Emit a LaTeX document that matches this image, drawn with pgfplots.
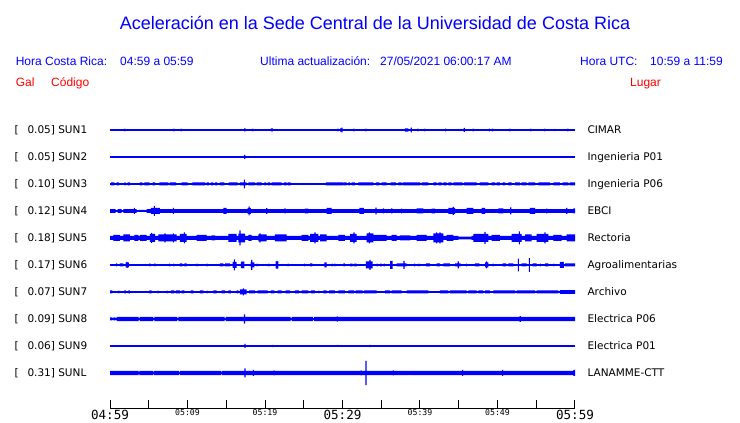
\documentclass[border=0pt]{standalone}
\usepackage{fontspec}
\setmainfont{Liberation Sans}
\newfontfamily\dejavu{DejaVu Sans}
\newfontfamily\dmono{DejaVu Sans Mono}
\usepackage{pgfplots}
\pgfplotsset{compat=1.18}
\usepackage{pgfplotstable}

\pgfplotstableread[row sep=\\]{x a\\ 0 0\\ 1.85 1.4\\ 1.98 0\\ 8.17 1.4\\ 8.30 0\\ 9.12 1.4\\ 9.25 0\\ 17.30 1.5\\ 17.50 0\\ 18.36 1.4\\ 18.49 0\\ 20.75 1.5\\ 21.0 0\\ 29.33 1.3\\ 29.46 0\\ 29.68 1.6\\ 29.85 2.4\\ 30.0 0\\ 31.39 1.4\\ 31.52 0\\ 32.94 1.4\\ 33.07 0\\ 38.06 1.6\\ 38.49 0\\ 38.80 2.4\\ 38.95 0\\ 39.65 1.4\\ 39.78 0\\ 40.55 1.4\\ 40.68 0\\ 43.23 1.4\\ 43.36 0\\ 45.25 1.1\\ 45.38 0\\ 45.62 2.0\\ 45.78 0\\ 46.80 1.4\\ 46.93 0\\ 48.90 1.4\\ 49.03 0\\ 49.30 1.4\\ 49.43 0\\ 51.52 1.4\\ 51.65 0\\ 54.23 1.4\\ 54.36 0\\ 56.04 1.4\\ 56.17 0\\ 57.33 1.1\\ 57.46 0\\ 59.01 1.4\\ 59.14 0\\ 60 0\\}\tA

\pgfplotstableread[row sep=\\]{x a\\ 0 0\\ 17.32 2.0\\ 17.47 0\\ 60 0\\}\tB

\pgfplotstableread[row sep=\\]{x a\\ 0 0\\ 0.13 1.5\\ 0.56 0\\ 0.86 1.5\\ 1.16 0\\ 1.85 1.5\\ 2.02 0\\ 2.28 1.5\\ 2.58 0\\ 3.87 1.5\\ 4.17 0\\ 4.43 1.5\\ 5.07 0\\ 5.51 1.5\\ 5.81 0\\ 6.37 1.5\\ 7.53 0\\ 7.74 1.5\\ 8.52 0\\ 9.25 1.5\\ 10.02 0\\ 10.62 1.5\\ 12.26 0\\ 12.47 1.5\\ 12.77 0\\ 13.03 1.5\\ 13.33 0\\ 13.55 1.5\\ 13.85 0\\ 14.19 1.5\\ 14.75 0\\ 15.35 1.5\\ 16.47 0\\ 16.77 1.5\\ 17.26 4.3\\ 17.40 1.5\\ 17.63 0\\ 17.85 1.5\\ 18.71 0\\ 18.92 1.5\\ 19.57 0\\ 19.91 1.5\\ 20.13 0\\ 20.34 1.5\\ 20.65 0\\ 20.86 1.5\\ 22.15 0\\ 22.45 1.5\\ 22.80 0\\ 22.92 1.5\\ 23.31 0\\ 27.87 1.5\\ 30.10 0\\ 30.19 1.5\\ 30.54 0\\ 30.75 1.5\\ 30.97 0\\ 31.18 1.5\\ 31.61 0\\ 32.04 1.5\\ 33.98 0\\ 34.32 1.5\\ 34.75 0\\ 35.05 1.5\\ 35.70 0\\ 36.21 1.5\\ 36.90 0\\ 37.20 1.5\\ 37.63 0\\ 37.76 1.5\\ 40.0 0\\ 40.21 1.5\\ 41.08 0\\ 41.72 1.5\\ 42.15 0\\ 42.37 1.5\\ 42.80 0\\ 43.01 1.5\\ 43.44 0\\ 43.65 1.5\\ 44.09 0\\ 44.30 1.5\\ 45.5 0\\ 45.7 1.5\\ 47.31 0\\ 47.74 1.5\\ 48.82 0\\ 49.25 1.5\\ 49.68 0\\ 49.89 1.5\\ 50.32 0\\ 50.67 1.5\\ 50.97 0\\ 51.39 1.5\\ 51.83 0\\ 52.26 1.5\\ 52.90 0\\ 53.12 1.5\\ 53.76 0\\ 53.98 1.5\\ 54.84 0\\ 55.27 1.5\\ 56.77 0\\ 57.20 1.5\\ 58.06 0\\ 58.41 1.5\\ 59.14 0\\ 59.35 1.5\\ 60 1.5\\}\tC

\pgfplotstableread[row sep=\\]{x a\\ 0 1.8\\ 0.73 0\\ 0.99 1.8\\ 1.51 0\\ 1.72 1.8\\ 3.08 3.0\\ 3.21 1.8\\ 3.44 0\\ 3.66 1.0\\ 4.52 0\\ 4.73 1.8\\ 5.29 3.0\\ 5.65 5.0\\ 5.80 3.0\\ 6.45 1.8\\ 8.10 3.0\\ 8.25 1.8\\ 14.62 3.0\\ 15.05 1.8\\ 17.76 3.0\\ 17.88 4.5\\ 18.02 3.0\\ 18.19 1.8\\ 20.15 2.8\\ 20.30 1.8\\ 22.50 2.5\\ 22.65 1.8\\ 25.16 2.3\\ 25.59 1.8\\ 27.96 3.0\\ 28.60 1.8\\ 32.17 3.0\\ 32.77 1.8\\ 34.25 3.3\\ 34.40 1.8\\ 35.20 2.5\\ 35.35 1.8\\ 36.27 2.5\\ 36.42 1.8\\ 37.56 2.3\\ 37.70 1.8\\ 39.57 2.5\\ 40.43 1.8\\ 41.51 2.3\\ 41.94 1.8\\ 43.65 3.0\\ 44.22 4.0\\ 44.38 3.0\\ 44.52 1.8\\ 46.02 3.0\\ 46.88 1.8\\ 47.96 3.0\\ 48.39 1.8\\ 50.11 2.5\\ 50.75 1.8\\ 51.62 3.5\\ 51.78 1.8\\ 54.19 3.0\\ 54.84 1.8\\ 56.28 2.3\\ 56.42 1.8\\ 58.86 3.0\\ 59.00 1.8\\ 59.78 2.5\\ 60 2.5\\}\tD

\pgfplotstableread[row sep=\\]{x a\\ 0 2.0\\ 0.43 3.0\\ 1.29 2.0\\ 1.72 3.5\\ 2.58 2.0\\ 3.14 3.0\\ 3.66 2.0\\ 3.87 3.0\\ 4.73 2.0\\ 5.16 4.0\\ 5.31 5.0\\ 5.45 4.0\\ 5.81 2.0\\ 6.24 3.5\\ 7.03 4.5\\ 7.17 3.5\\ 8.10 4.5\\ 8.24 3.5\\ 8.60 2.0\\ 9.03 4.0\\ 9.52 5.5\\ 9.66 4.0\\ 9.89 2.0\\ 11.18 3.0\\ 12.47 2.0\\ 13.12 2.5\\ 13.55 2.0\\ 15.27 4.0\\ 16.34 2.0\\ 16.56 4.3\\ 16.70 7.5\\ 16.84 4.3\\ 17.42 2.0\\ 17.85 3.0\\ 18.28 2.0\\ 19.14 3.5\\ 19.28 4.5\\ 19.42 3.5\\ 20.22 2.0\\ 21.29 3.5\\ 22.80 2.0\\ 24.73 3.0\\ 25.59 2.0\\ 25.81 4.0\\ 26.38 5.5\\ 26.52 4.0\\ 26.88 2.0\\ 27.10 3.5\\ 27.96 2.0\\ 29.46 3.0\\ 30.32 2.0\\ 30.97 4.0\\ 31.41 5.5\\ 31.55 4.0\\ 31.83 2.0\\ 33.12 4.5\\ 33.39 5.5\\ 33.53 4.5\\ 33.98 3.0\\ 35.70 2.0\\ 36.34 3.0\\ 36.99 2.0\\ 37.42 2.5\\ 38.71 2.0\\ 39.57 3.0\\ 40.86 2.0\\ 41.72 4.5\\ 42.08 5.5\\ 42.22 4.5\\ 42.51 5.5\\ 42.65 4.5\\ 43.01 2.0\\ 43.44 3.0\\ 44.30 2.0\\ 44.95 1.3\\ 46.67 2.0\\ 46.88 4.0\\ 48.32 6.0\\ 48.46 4.0\\ 48.82 2.0\\ 49.25 3.0\\ 50.32 2.0\\ 51.83 4.0\\ 52.75 6.5\\ 52.89 4.0\\ 53.12 2.0\\ 53.55 3.5\\ 54.41 2.0\\ 55.05 4.0\\ 56.06 5.5\\ 56.20 4.0\\ 56.56 2.0\\ 57.20 3.0\\ 58.28 2.0\\ 58.93 3.5\\ 60 3.5\\}\tE

\pgfplotstableread[row sep=\\]{x a\\ 0 0\\ 0.80 1.5\\ 0.93 0\\ 1.29 1.5\\ 1.72 0\\ 2.02 2.5\\ 2.15 3.0\\ 2.28 2.5\\ 2.45 0\\ 5.07 1.5\\ 5.20 0\\ 5.72 1.5\\ 5.85 0\\ 7.61 1.3\\ 7.74 0\\ 8.17 1.3\\ 8.30 0\\ 9.03 1.5\\ 9.33 0\\ 9.59 1.5\\ 9.89 0\\ 11.18 1.3\\ 11.31 0\\ 12.47 1.3\\ 12.60 0\\ 14.19 1.5\\ 14.62 0\\ 14.84 1.5\\ 15.48 0\\ 15.83 3.0\\ 15.97 5.5\\ 16.11 3.0\\ 16.34 0\\ 16.90 3.0\\ 16.98 3.5\\ 17.10 3.0\\ 17.20 3.5\\ 17.33 0\\ 18.15 2.5\\ 18.22 5.0\\ 18.36 2.5\\ 18.62 0\\ 18.92 1.3\\ 19.05 0\\ 20.43 1.3\\ 20.56 0\\ 21.38 3.5\\ 21.50 4.0\\ 21.62 3.5\\ 21.72 0\\ 22.92 1.3\\ 23.05 0\\ 25.03 1.3\\ 25.16 0\\ 25.81 1.5\\ 26.11 0\\ 27.66 2.5\\ 27.96 0\\ 28.60 1.3\\ 28.73 0\\ 28.95 1.3\\ 29.08 0\\ 30.11 1.5\\ 30.32 0\\ 30.97 1.3\\ 31.30 0\\ 31.50 1.3\\ 31.83 0\\ 33.03 3.5\\ 33.48 5.0\\ 33.62 3.5\\ 33.89 0\\ 34.41 1.3\\ 34.54 0\\ 34.84 1.3\\ 35.05 0\\ 35.30 1.3\\ 35.48 0\\ 36.13 4.0\\ 36.47 0\\ 36.99 1.5\\ 37.85 4.0\\ 38.0 1.5\\ 38.28 0\\ 39.23 1.3\\ 39.36 0\\ 39.78 1.3\\ 39.91 0\\ 40.77 1.5\\ 41.29 0\\ 42.15 1.5\\ 42.58 0\\ 43.01 1.5\\ 43.87 0\\ 44.52 1.5\\ 44.85 3.5\\ 45.0 1.5\\ 45.25 0\\ 45.94 1.3\\ 46.07 0\\ 47.10 1.5\\ 47.66 0\\ 48.39 2.5\\ 48.53 3.5\\ 48.67 2.5\\ 48.82 0\\ 49.38 1.3\\ 49.51 0\\ 50.67 1.5\\ 51.10 0\\ 51.39 1.5\\ 52.04 0\\ 52.62 6.3\\ 52.76 0\\ 53.12 1.5\\ 53.76 0\\ 54.04 6.8\\ 54.18 0\\ 54.54 1.5\\ 55.05 0\\ 55.48 1.3\\ 55.61 0\\ 56.13 1.5\\ 56.56 0\\ 57.20 1.3\\ 57.33 0\\ 58.06 3.0\\ 58.58 0\\ 58.71 1.5\\ 60 1.5\\}\tF

\pgfplotstableread[row sep=\\]{x a\\ 0 1.5\\ 0.30 0\\ 1.08 1.3\\ 1.21 0\\ 1.85 1.5\\ 2.06 0\\ 2.37 1.5\\ 2.58 0\\ 5.07 1.5\\ 5.38 0\\ 6.15 1.3\\ 6.28 0\\ 7.31 1.3\\ 7.44 0\\ 7.87 1.5\\ 8.3 0\\ 8.5 1.5\\ 9.03 0\\ 9.25 1.5\\ 9.59 0\\ 10.45 1.5\\ 10.75 0\\ 11.61 1.5\\ 12.04 0\\ 12.47 1.3\\ 12.60 0\\ 13.33 1.5\\ 13.76 0\\ 14.41 1.5\\ 14.84 0\\ 15.27 1.5\\ 15.61 0\\ 16.34 1.5\\ 16.56 0\\ 16.77 2.5\\ 17.13 3.5\\ 17.27 2.5\\ 17.63 0\\ 17.94 1.5\\ 18.71 0\\ 19.05 1.5\\ 20.34 0\\ 20.77 1.5\\ 21.20 0\\ 21.63 1.5\\ 22.15 0\\ 22.67 1.5\\ 23.23 0\\ 23.87 1.5\\ 24.39 0\\ 24.73 1.5\\ 25.59 0\\ 25.94 1.5\\ 26.45 0\\ 26.88 1.3\\ 27.01 0\\ 27.53 1.5\\ 27.96 0\\ 28.26 1.5\\ 29.03 0\\ 29.46 1.5\\ 30.32 0\\ 30.75 1.5\\ 31.5 0\\ 31.7 1.5\\ 32.6 0\\ 32.8 1.5\\ 34.41 0\\ 35.48 1.5\\ 36.13 0\\ 36.34 1.5\\ 37.63 0\\ 38.28 1.5\\ 41.08 0\\ 42.58 1.5\\ 43.65 0\\ 43.87 1.5\\ 46.02 0\\ 46.24 1.5\\ 47.31 0\\ 47.53 1.5\\ 48.17 0\\ 48.39 1.5\\ 49.03 0\\ 49.46 1.5\\ 52.26 0\\ 52.47 1.5\\ 54.84 0\\ 55.05 1.5\\ 57.85 0\\ 58.06 1.8\\ 60 1.8\\}\tG

\pgfplotstableread[row sep=\\]{x a\\ 0 1.5\\ 0.30 0\\ 0.43 1.5\\ 0.73 0.4\\ 0.85 2.2\\ 3.7 0.5\\ 3.83 2.2\\ 5.6 0.5\\ 5.73 2.2\\ 8.7 0.5\\ 8.83 2.2\\ 14.8 0.5\\ 14.93 2.2\\ 17.28 4.7\\ 17.43 2.2\\ 23.3 0.5\\ 23.43 2.2\\ 26.2 0.5\\ 26.33 2.2\\ 29.27 2.7\\ 29.40 2.2\\ 52.85 2.8\\ 53.00 2.2\\ 60 2.2\\}\tH

\pgfplotstableread[row sep=\\]{x a\\ 0 0\\ 17.35 2.0\\ 17.50 0\\ 20.95 1.2\\ 21.08 0\\ 29.33 1.0\\ 29.46 0\\ 33.50 1.2\\ 33.63 0\\ 60 0\\}\tI

\pgfplotstableread[row sep=\\]{x a\\ 0 2.2\\ 3.7 1.2\\ 3.8 2.2\\ 5.6 1.2\\ 5.7 2.2\\ 8.9 1.2\\ 9.0 2.2\\ 14.3 1.2\\ 14.4 2.2\\ 17.35 4.5\\ 17.50 2.2\\ 18.42 3.0\\ 18.56 2.2\\ 21.10 2.5\\ 21.23 2.2\\ 32.33 2.5\\ 32.46 2.2\\ 32.95 12.2\\ 33.10 2.2\\ 36.50 2.5\\ 36.63 2.2\\ 38.56 2.0\\ 38.69 2.2\\ 45.45 3.0\\ 45.58 2.2\\ 50.60 3.0\\ 50.73 2.2\\ 59.80 3.0\\ 60 3.0\\}\tL

% one hidden axis per trace; its y=0 is the trace baseline (py = pixel row from top)
\newcommand{\trace}[2]{%
\begin{axis}[at={(110pt,{(423-#2)*1pt})}, anchor=west,
  width=465pt, height=27pt, scale only axis,
  xmin=0, xmax=60, ymin=-13.5, ymax=13.5, hide axis, clip=false]
  \addplot[blue, line width=1.3pt] coordinates {(0,0) (60,0)};
  \addplot[const plot, fill=blue, draw=none] table[x=x, y=a] {#1} \closedcycle;
  \addplot[const plot, fill=blue, draw=none] table[x=x, y expr={-\thisrow{a}}] {#1} \closedcycle;
\end{axis}}
\newcommand{\biglab}[1]{{\dmono\fontsize{12.6}{14}\selectfont #1}}
\newcommand{\smalllab}[1]{\raisebox{4pt}{\dmono\fontsize{8.2}{9}\selectfont #1}}

\begin{document}
\begin{tikzpicture}
\path[use as bounding box] (0,0) rectangle (740pt,423pt);
\begin{axis}[
  at={(110pt,14pt)}, anchor=south west,
  width=465pt, height=20pt, scale only axis,
  xmin=0, xmax=60, ymin=0, ymax=1,
  axis x line=bottom, axis y line=none,
  axis line style={-, black, line width=1pt},
  xtick={0,5,...,60},
  xticklabels={\biglab{04:59},,\smalllab{05:09},,\smalllab{05:19},,\biglab{05:29},,\smalllab{05:39},,\smalllab{05:49},,\biglab{05:59}},
  xtick align=inside,
  major tick length=9pt,
  tick style={black, line width=1pt},
  xticklabel style={anchor=base, yshift=-11pt, inner sep=0pt},
  clip=false,
]
\addplot[draw=none] coordinates {(0,0.5) (60,0.5)};
\end{axis}
\trace{\tA}{130}
\trace{\tB}{157}
\trace{\tC}{184}
\trace{\tD}{211}
\trace{\tE}{238}
\trace{\tF}{265}
\trace{\tG}{292}
\trace{\tH}{319}
\trace{\tI}{346}
\trace{\tL}{373}

\node[anchor=base, text=blue, inner sep=0pt, font=\fontsize{18}{20}\selectfont] at (375pt,393.5pt) {Aceleración en la Sede Central de la Universidad de Costa Rica};

\begin{scope}[every node/.style={anchor=base west, inner sep=0pt, font=\fontsize{12}{14}\selectfont}]
\node[text=blue] at (15.6pt,357.7pt) {Hora Costa Rica:};
\node[text=blue] at (120pt,357.7pt) {04:59 a 05:59};
\node[text=blue] at (260pt,357.7pt) {Ultima actualización:};
\node[text=blue] at (380pt,357.7pt) {27/05/2021 06:00:17 AM};
\node[text=blue] at (580pt,357.7pt) {Hora UTC:};
\node[text=blue] at (650pt,357.7pt) {10:59 a 11:59};
\node[text=red] at (15.6pt,336.7pt) {Gal};
\node[text=red] at (51pt,336.7pt) {Código};
\node[text=red] at (630pt,336.7pt) {Lugar};
\end{scope}

\begin{scope}[every node/.style={anchor=base west, inner sep=0pt, font=\dejavu\fontsize{10.5}{12}\selectfont}]
\foreach \py/\v/\c/\l in {130/0.05/SUN1/CIMAR, 157/0.05/SUN2/Ingenieria P01, 184/0.10/SUN3/Ingenieria P06, 211/0.12/SUN4/EBCI, 238/0.18/SUN5/Rectoria, 265/0.17/SUN6/Agroalimentarias, 292/0.07/SUN7/Archivo, 319/0.09/SUN8/Electrica P06, 346/0.06/SUN9/Electrica P01, 373/0.31/SUNL/LANAMME-CTT}{
  \node at (14.3pt,{(419.2-\py)*1pt}) {[};
  \node at (27.3pt,{(419.2-\py)*1pt}) {\v] \c};
  \node at (587.3pt,{(419.2-\py)*1pt}) {\l};
}
\end{scope}
\end{tikzpicture}
\end{document}
